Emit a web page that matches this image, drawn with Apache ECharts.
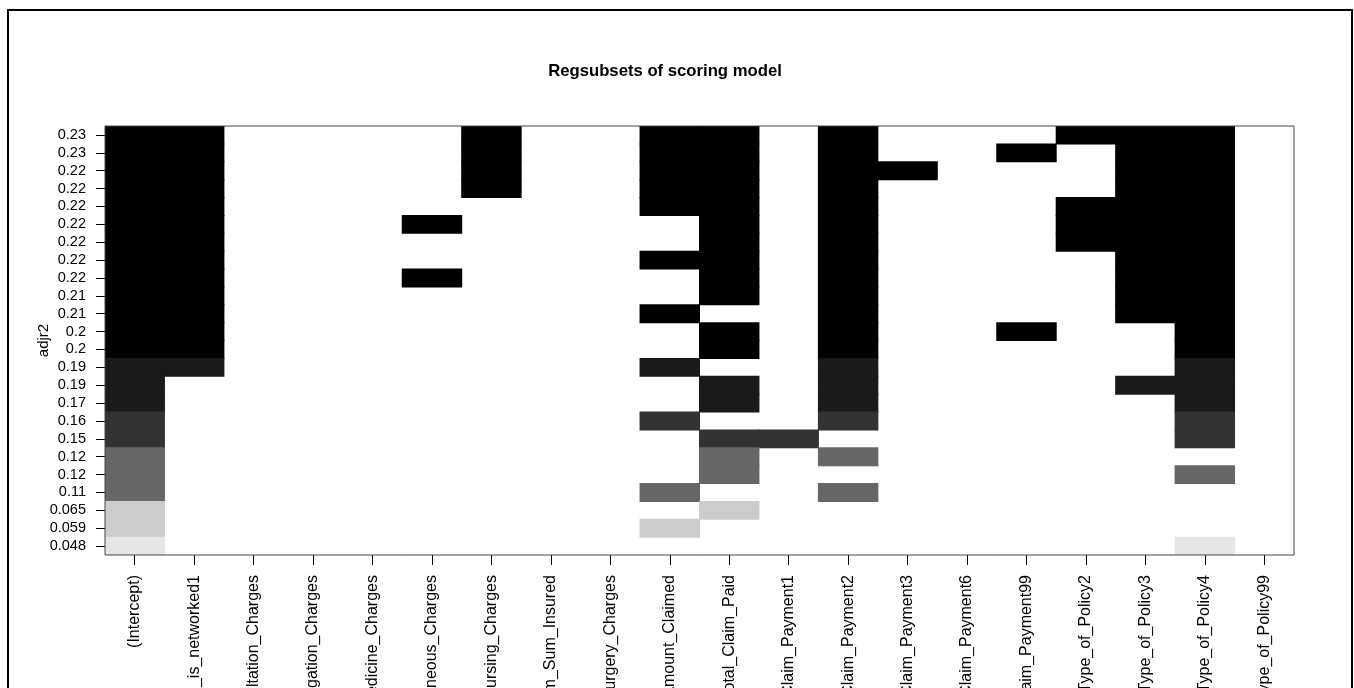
<!DOCTYPE html>
<html>
<head>
<meta charset="utf-8">
<script src="https://cdn.jsdelivr.net/npm/echarts@6/dist/echarts.min.js"></script>
<style>
  html, body { margin: 0; padding: 0; background: #ffffff; }
  #chart { width: 1354px; height: 688px; }
</style>
</head>
<body>
<div id="chart"></div>
<script>
// Candidate predictors (columns of the subset matrix)
const variables = [
  '(Intercept)', 'Hospital_is_networked1', 'Consultation_Charges', 'Investigation_Charges',
  'Medicine_Charges', 'Miscellaneous_Charges', 'Nursing_Charges', 'Premium_Sum_Insured',
  'Surgery_Charges', 'Total_Amount_Claimed', 'Total_Claim_Paid', 'Mode_of_Claim_Payment1',
  'Mode_of_Claim_Payment2', 'Mode_of_Claim_Payment3', 'Mode_of_Claim_Payment6', 'Mode_of_Claim_Payment99',
  'Type_of_Policy2', 'Type_of_Policy3', 'Type_of_Policy4', 'Type_of_Policy99'
];

// Adjusted R^2 of each model, best model first
const adjr2Labels = [
  '0.23', '0.23', '0.22', '0.22', '0.22', '0.22', '0.22', '0.22', '0.22', '0.21', '0.21', '0.2',
  '0.2', '0.19', '0.19', '0.17', '0.16', '0.15', '0.12', '0.12', '0.11', '0.065', '0.059', '0.048'
];

// Grey level (0 = black ... 9 = lightest) used for each model row
const rowShade = [0, 0, 0, 0, 0, 0, 0, 0, 0, 0, 0, 0, 0, 1, 1, 1, 2, 2, 4, 4, 4, 8, 8, 9];

// Variables included in each model (1 = in the model), one string per row
const selection = [
  '11000010011010001110',
  '11000010011010010110',
  '11000010011011000110',
  '11000010011010000110',
  '11000000011010001110',
  '11000100001010001110',
  '11000000001010001110',
  '11000000011010000110',
  '11000100001010000110',
  '11000000001010000110',
  '11000000010010000110',
  '11000000001010010010',
  '11000000001010000010',
  '11000000010010000010',
  '10000000001010000110',
  '10000000001010000010',
  '10000000010010000010',
  '10000000001100000010',
  '10000000001010000000',
  '10000000001000000010',
  '10000000010010000000',
  '10000000001000000000',
  '10000000010000000000',
  '10000000000000000010'
];

const cells = [];
selection.forEach(function (row, r) {
  for (let c = 0; c < row.length; c++) {
    if (row[c] === '1') cells.push([c, r, rowShade[r]]);
  }
});

function grey(level) {
  const v = Math.round(level / 10 * 255);
  const h = v.toString(16).padStart(2, '0');
  return '#' + h + h + h;
}

// One filled rectangle per included variable, sized from the category bands
function renderCell(params, api) {
  const center = api.coord([api.value(0), api.value(1)]);
  const size = api.size([1, 1]);
  const w = size[0], h = size[1];
  return {
    type: 'rect',
    shape: {
      x: center[0] - w / 2 - 0.5,
      y: center[1] - h / 2 - 0.5,
      width: w + 1,
      height: h + 1
    },
    style: { fill: grey(api.value(2)), stroke: null }
  };
}

const FONT = "'Liberation Sans', Arial, sans-serif";

const chart = echarts.init(document.getElementById('chart'), null, { renderer: 'canvas' });
chart.setOption({
  backgroundColor: '#ffffff',
  animation: false,
  title: {
    text: 'Regsubsets of scoring model',
    left: 660,
    top: 58,
    textAlign: 'center',
    textStyle: { fontFamily: FONT, fontSize: 16.7, fontWeight: 'bold', color: '#000' }
  },
  grid: {
    left: 105, top: 126, width: 1189, height: 429,
    outerBoundsMode: 'none',
    containLabel: false,
    show: false
  },
  xAxis: {
    type: 'category',
    data: variables,
    axisLine: { show: false },
    axisTick: { show: true, alignWithLabel: true, length: 10, lineStyle: { color: '#000', width: 1 } },
    axisLabel: {
      rotate: 90, margin: 20, interval: 0,
      fontFamily: FONT, fontSize: 16, color: '#000'
    },
    splitLine: { show: false }
  },
  yAxis: {
    type: 'category',
    data: adjr2Labels,
    inverse: true,
    axisLine: { show: false },
    axisTick: { show: true, alignWithLabel: true, length: 9, lineStyle: { color: '#000', width: 1 } },
    axisLabel: { margin: 19, interval: 0, fontFamily: FONT, fontSize: 14.5, color: '#000' },
    splitLine: { show: false }
  },
  series: [{
    type: 'custom',
    data: cells,
    renderItem: renderCell,
    clip: true,
    encode: { x: 0, y: 1 },
    silent: true
  }],
  graphic: [{
    // y-axis title, rotated and centred on the plot height
    type: 'text',
    x: 44,
    y: 340.5,
    rotation: Math.PI / 2,
    style: {
      text: 'adjr2',
      fontFamily: FONT,
      fontSize: 15,
      fill: '#000',
      align: 'center',
      verticalAlign: 'middle'
    },
    silent: true
  }, {
    type: 'rect',
    shape: { x: 105, y: 126, width: 1189, height: 429 },
    style: { fill: 'none', stroke: '#444', lineWidth: 1 },
    silent: true,
    z: 100
  }, {
    type: 'rect',
    shape: { x: 8, y: 10, width: 1344, height: 700 },
    style: { fill: 'none', stroke: '#000', lineWidth: 2 },
    silent: true,
    z: 100
  }]
});
</script>
</body>
</html>
